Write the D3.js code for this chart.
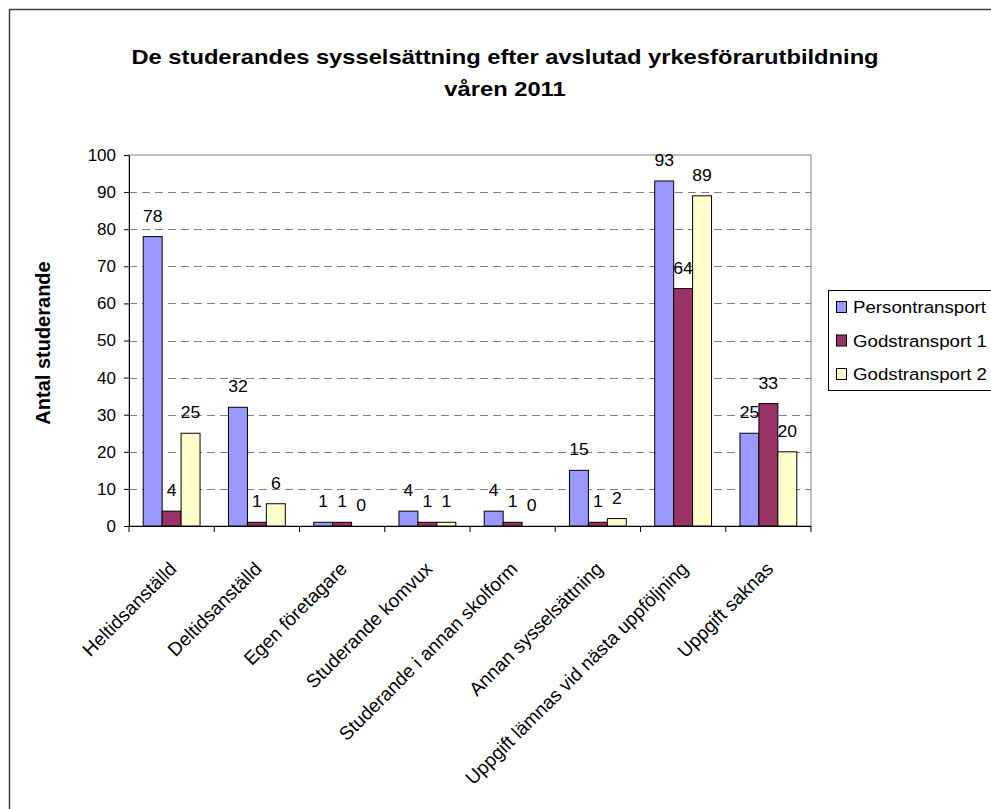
<!DOCTYPE html>
<html>
<head>
<meta charset="utf-8">
<script src="https://cdn.jsdelivr.net/npm/d3@7"></script>
<style>
html,body{margin:0;padding:0;background:#fff;}
svg{display:block;font-family:"Liberation Sans",Arial,sans-serif;}
</style>
</head>
<body>
<svg id="chart" width="991" height="809"></svg>
<script>
const titleLines = ["De studerandes sysselsättning efter avslutad yrkesförarutbildning", "våren 2011"];
const yAxisTitle = "Antal studerande";
const categories = ["Heltidsanställd","Deltidsanställd","Egen företagare","Studerande komvux","Studerande i annan skolform","Annan sysselsättning","Uppgift lämnas vid nästa uppföljning","Uppgift saknas"];
const seriesNames = ["Persontransport","Godstransport 1","Godstransport 2"];
const persontransport = [78,32,1,4,4,15,93,25];
const godstransport1 = [4,1,1,1,1,1,64,33];
const godstransport2 = [25,6,0,1,0,2,89,20];
const yTicks = [0,10,20,30,40,50,60,70,80,90,100];
const colors = ["#9999FF","#993366","#FFFFCC"];

const seriesValues = [persontransport, godstransport1, godstransport2];
const svg = d3.select("#chart");
const sx = 1.1;

// outer border
svg.append("rect").attr("x",9.5).attr("y",9.5).attr("width",1100).attr("height",1100)
  .attr("fill","#fff").attr("stroke","#404040").attr("stroke-width",1.5);

// title
titleLines.forEach((t,i)=>{
  svg.append("text").attr("transform",`translate(505,${64+i*32}) scale(1.13,1)`)
    .attr("text-anchor","middle").attr("font-size",21).attr("font-weight","bold").text(t);
});

const plot = {l:129, r:811, t:155, b:526};
const y = d3.scaleLinear().domain([0,100]).range([plot.b, plot.t]);
const x = d3.scaleBand().domain(categories).range([plot.l, plot.r]).paddingInner(0).paddingOuter(0);
const xs = d3.scaleBand().domain(seriesNames).range([0, x.bandwidth()]).paddingInner(0).paddingOuter(0.75);

// plot border
svg.append("rect").attr("x",plot.l).attr("y",plot.t).attr("width",plot.r-plot.l).attr("height",plot.b-plot.t)
  .attr("fill","none").attr("stroke","#808080").attr("stroke-width",1);

// gridlines
svg.append("g").selectAll("line").data(yTicks.filter(v=>v>0 && v<100)).join("line")
  .attr("x1",plot.l).attr("x2",plot.r).attr("y1",d=>Math.round(y(d))+0.5).attr("y2",d=>Math.round(y(d))+0.5)
  .attr("stroke","#808080").attr("stroke-width",1).attr("stroke-dasharray","8,5");

// bars
const data = [];
categories.forEach((c,i)=>seriesNames.forEach((s,j)=>data.push({c,s,j,v:seriesValues[j][i]})));
svg.append("g").selectAll("rect").data(data.filter(d=>d.v>0)).join("rect")
  .attr("x",d=>x(d.c)+xs(d.s)).attr("y",d=>y(d.v)).attr("width",xs.bandwidth()).attr("height",d=>y(0)-y(d.v))
  .attr("fill",d=>colors[d.j]).attr("stroke","#000").attr("stroke-width",1);

// data labels
svg.append("g").selectAll("text").data(data).join("text")
  .attr("transform",d=>`translate(${x(d.c)+xs(d.s)+xs.bandwidth()/2},${y(d.v)-15}) scale(${sx},1)`)
  .attr("text-anchor","middle").attr("font-size",16).attr("fill","#000").text(d=>d.v);

// y axis
const ya = svg.append("g").attr("transform",`translate(${plot.l},0)`)
  .call(d3.axisLeft(y).tickValues(yTicks).tickSize(5).tickSizeOuter(0).tickPadding(8));
ya.select(".domain").attr("stroke","#000");
ya.selectAll(".tick line").attr("stroke","#000");
ya.selectAll(".tick text").attr("font-size",17).attr("font-family","Liberation Sans, Arial, sans-serif").attr("fill","#000");

// x axis
svg.append("line").attr("x1",plot.l).attr("x2",plot.r).attr("y1",plot.b+0.5).attr("y2",plot.b+0.5).attr("stroke","#000");
const bounds = categories.map(c=>x(c)).concat([x.range()[1]]);
svg.append("g").selectAll("line").data(bounds).join("line")
  .attr("x1",d=>d).attr("x2",d=>d).attr("y1",plot.b).attr("y2",plot.b+6).attr("stroke","#000");
svg.append("g").selectAll("text").data(categories).join("text")
  .attr("transform",c=>`translate(${x(c)+x.bandwidth()/2+6},${plot.b+44}) rotate(-45)`)
  .attr("text-anchor","end").attr("font-size",19).text(c=>c);

// y axis title
svg.append("text").attr("transform","translate(50,343) rotate(-90)").attr("text-anchor","middle")
  .attr("font-size",20).attr("font-weight","bold").text(yAxisTitle);

// legend
const lg = svg.append("g");
lg.append("rect").attr("x",828.5).attr("y",290.5).attr("width",200).attr("height",100).attr("fill","#fff").attr("stroke","#000");
seriesNames.forEach((s,i)=>{
  const by = 313 + i*33.5;
  lg.append("rect").attr("x",836.5).attr("y",by-11.5).attr("width",10).attr("height",11).attr("fill",colors[i]).attr("stroke","#000");
  lg.append("text").attr("transform",`translate(853,${by}) scale(${sx},1)`).attr("font-size",17).text(s);
});
</script>
</body>
</html>
